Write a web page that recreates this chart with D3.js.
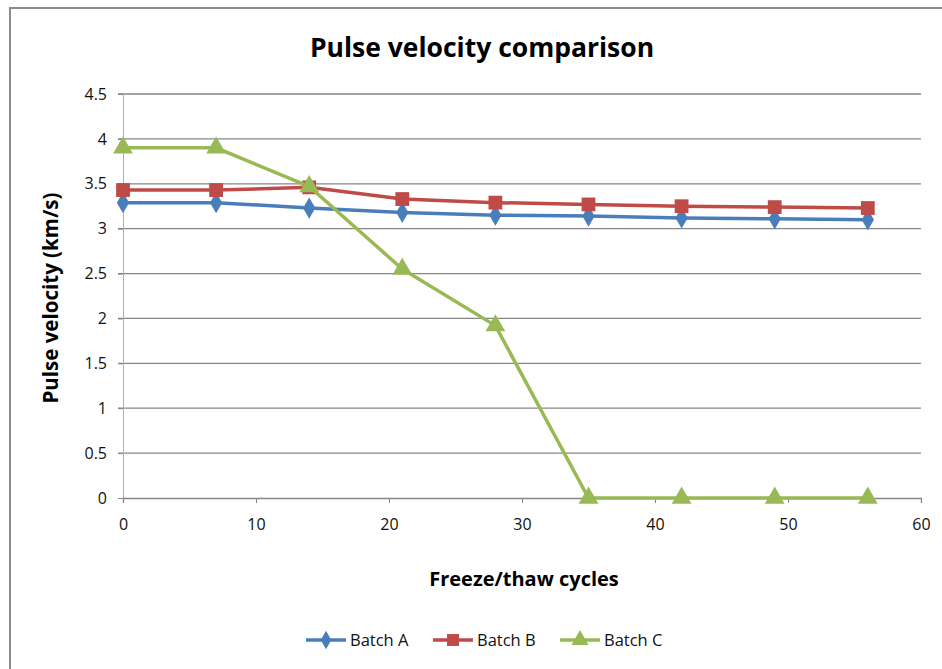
<!DOCTYPE html>
<html lang="en">
<head>
    <meta charset="UTF-8">
    <title>Pulse velocity comparison</title>
    <script src="https://cdn.jsdelivr.net/npm/d3@7"></script>
    <style>
        body { margin: 0; background: #fff; }
        svg { display: block; font-family: "Open Sans", sans-serif; }
    </style>
</head>
<body>
<div id="chart"></div>
<script>
    // freeze/thaw cycles
    const cycles = [0, 7, 14, 21, 28, 35, 42, 49, 56];
    const batchA = [3.29, 3.29, 3.23, 3.18, 3.15, 3.14, 3.12, 3.11, 3.10];
    const batchB = [3.43, 3.43, 3.46, 3.33, 3.29, 3.27, 3.25, 3.24, 3.23];
    const batchC = [3.90, 3.90, 3.47, 2.55, 1.92, 0, 0, 0, 0];
    const seriesNames = ["Batch A", "Batch B", "Batch C"];
    const seriesColors = ["#4a7ebb", "#be4b48", "#98b954"];
    const xTicks = [0, 10, 20, 30, 40, 50, 60];
    const yTicks = [0, 0.5, 1, 1.5, 2, 2.5, 3, 3.5, 4, 4.5];

    const width = 942, height = 669;
    const margin = {left: 123, right: 21, top: 94, bottom: 171};

    const svg = d3.select("#chart").append("svg")
        .attr("width", width)
        .attr("height", height);

    // outer chart frame (only top & left visible)
    svg.append("path")
        .attr("d", `M10,${height} L10,8 L${width},8`)
        .attr("fill", "none")
        .attr("stroke", "#8c8c8c")
        .attr("stroke-width", 2);

    const x = d3.scaleLinear().domain([0, 60]).range([margin.left, width - margin.right]);
    const y = d3.scaleLinear().domain([0, 4.5]).range([height - margin.bottom, margin.top]);

    // horizontal gridlines
    svg.append("g")
        .selectAll("line")
        .data(yTicks.filter(d => d > 0))
        .join("line")
        .attr("x1", x(0) - 5)
        .attr("x2", x(60))
        .attr("y1", d => y(d))
        .attr("y2", d => y(d))
        .attr("stroke", "#868686")
        .attr("stroke-width", 1.3);

    // y axis
    const yAxis = svg.append("g")
        .attr("transform", `translate(${x(0)},0)`)
        .call(d3.axisLeft(y).tickValues(yTicks).tickFormat(d3.format("")).tickSize(5).tickPadding(11));
    yAxis.attr("font-size", 16).attr("font-family", null);
    yAxis.select(".domain").attr("stroke", "#b0b0b0");
    yAxis.selectAll(".tick line").attr("stroke", "#868686");
    yAxis.selectAll("text").attr("fill", "#111");

    // x axis
    const xAxis = svg.append("g")
        .attr("transform", `translate(0,${y(0)})`)
        .call(d3.axisBottom(x).tickValues(xTicks).tickSize(5).tickPadding(16));
    xAxis.attr("font-size", 16).attr("font-family", null);
    xAxis.select(".domain").attr("stroke", "#868686").attr("stroke-width", 1.3);
    xAxis.selectAll(".tick line").attr("stroke", "#868686");
    xAxis.selectAll("text").attr("fill", "#111");

    const series = [batchA, batchB, batchC].map((vals, i) => ({
        name: seriesNames[i],
        color: seriesColors[i],
        symbol: [d3.symbolDiamond, d3.symbolSquare, d3.symbolTriangle][i],
        size: [130, 190, 170][i],
        points: vals.map((v, j) => ({x: cycles[j], y: v}))
    }));

    const line = d3.line().x(d => x(d.x)).y(d => y(d.y));

    const g = svg.append("g")
        .selectAll("g")
        .data(series)
        .join("g");

    g.append("path")
        .attr("d", d => line(d.points))
        .attr("fill", "none")
        .attr("stroke", d => d.color)
        .attr("stroke-width", 3.5);

    g.each(function (s) {
        d3.select(this).selectAll("path.m")
            .data(s.points)
            .join("path")
            .attr("class", "m")
            .attr("transform", d => `translate(${x(d.x)},${y(d.y)})`)
            .attr("d", d3.symbol(s.symbol, s.size))
            .attr("fill", s.color);
    });

    // title
    svg.append("text")
        .attr("x", 482)
        .attr("y", 57)
        .attr("text-anchor", "middle")
        .attr("font-size", 26.5)
        .attr("font-weight", "bold")
        .attr("fill", "#000")
        .text("Pulse velocity comparison");

    // axis titles
    svg.append("text")
        .attr("x", 524)
        .attr("y", 586)
        .attr("text-anchor", "middle")
        .attr("font-size", 20)
        .attr("font-weight", "bold")
        .text("Freeze/thaw cycles");

    svg.append("text")
        .attr("transform", "translate(58,298) rotate(-90)")
        .attr("text-anchor", "middle")
        .attr("font-size", 20.5)
        .attr("font-weight", "bold")
        .text("Pulse velocity (km/s)");

    // legend
    const legendX = [306, 433, 560];
    const legend = svg.append("g")
        .selectAll("g")
        .data(series)
        .join("g")
        .attr("transform", (d, i) => `translate(${legendX[i]},640)`);

    legend.append("line")
        .attr("x1", 0).attr("x2", 40)
        .attr("stroke", d => d.color)
        .attr("stroke-width", 3.5);

    legend.append("path")
        .attr("transform", "translate(20,0)")
        .attr("d", d => d3.symbol(d.symbol, d.size * 0.75)())
        .attr("fill", d => d.color);

    legend.append("text")
        .attr("x", 44)
        .attr("y", 6)
        .attr("font-size", 16.5)
        .attr("fill", "#111")
        .text(d => d.name);
</script>
</body>
</html>
